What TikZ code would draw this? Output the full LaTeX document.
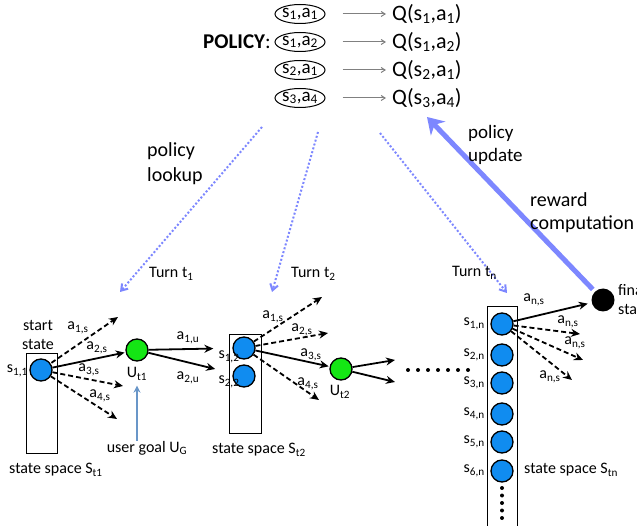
\documentclass[tikz,border=0pt]{standalone}
\usepackage{fontspec}
\setmainfont{Carlito}
\usetikzlibrary{arrows.meta,shapes.geometric,calc}
\definecolor{sblue}{RGB}{16,140,240}
\definecolor{ugreen}{RGB}{20,230,20}
\definecolor{lblue}{RGB}{125,135,255}
\definecolor{goalblue}{RGB}{105,150,200}
\newcommand{\sbs}[1]{\textsubscript{#1}}
\begin{document}
\begin{tikzpicture}[x=1pt,y=-1pt,
  txt/.style={inner sep=0pt,font=\fontsize{16}{19}\selectfont},
  lbl/.style={inner sep=0pt,font=\fontsize{16}{18}\selectfont},
  big/.style={inner sep=0pt,font=\fontsize{22}{24}\selectfont},
  pell/.style={ellipse,draw,line width=1pt,minimum width=50pt,minimum height=19pt,inner xsep=-5pt,inner ysep=-6pt,font=\fontsize{19}{20}\selectfont},
  stnode/.style={circle,draw,line width=1.3pt,fill=sblue,minimum size=22pt,inner sep=0pt},
  unode/.style={circle,draw,line width=1.3pt,fill=ugreen,minimum size=22pt,inner sep=0pt},
  sbox/.style={draw,line width=0.9pt,fill=white,inner sep=0pt},
  solidarr/.style={line width=1.8pt,-{Stealth[length=9pt,width=8pt]}},
  dasharr/.style={line width=1.8pt,dash pattern=on 5pt off 3pt,-{Stealth[length=9pt,width=8pt]}},
  grarr/.style={draw=gray,line width=1pt,-{Straight Barb[length=4pt,width=5pt]}},
  lookup/.style={draw=lblue,line width=2pt,dotted,-{Straight Barb[length=6pt,width=8pt]}},
]
\useasboundingbox (0,0) rectangle (637,526);
\clip (0,0) rectangle (637,526);

% ---------- policy table ----------
\node[inner sep=0pt,font=\fontsize{21}{23}\selectfont,anchor=east] (pol) at (271,42) {\textbf{POLICY}:};
\node[pell] (p1) at (300,14) {s\sbs{1},a\sbs{1}};
\node[pell] (p2) at (300,42) {s\sbs{1},a\sbs{2}};
\node[pell] (p3) at (300,70) {s\sbs{2},a\sbs{1}};
\node[pell] (p4) at (300,98) {s\sbs{3},a\sbs{4}};
\node[big,anchor=west] (q1) at (392,14) {Q(s\sbs{1},a\sbs{1})};
\node[big,anchor=west] (q2) at (392,42) {Q(s\sbs{1},a\sbs{2})};
\node[big,anchor=west] (q3) at (392,70) {Q(s\sbs{2},a\sbs{1})};
\node[big,anchor=west] (q4) at (392,98) {Q(s\sbs{3},a\sbs{4})};
\foreach \i in {1,2,3,4}{
  \draw[grarr,shorten <=17pt,shorten >=6pt] (p\i.east) -- (p\i.east -| q\i.west);
}

% ---------- lookup arrows ----------
\coordinate (l1s) at (262,127); \coordinate (l1e) at (120,292);
\coordinate (l2s) at (318,132); \coordinate (l2e) at (272,292);
\coordinate (l3s) at (380,133); \coordinate (l3e) at (507,293);
\draw[lookup] (l1s) -- (l1e);
\draw[lookup] (l2s) -- (l2e);
\draw[lookup] (l3s) -- (l3e);
\node[inner sep=0pt,font=\fontsize{20}{25}\selectfont,align=left,anchor=north west] (plk) at (147,142) {policy\\lookup};
\node[lbl,anchor=west] (turn1) at (149,274) {Turn t\sbs{1}};
\node[lbl,anchor=west] (turn2) at (291,274) {Turn t\sbs{2}};
\node[lbl,anchor=west] (turnn) at (452,273) {Turn t\sbs{n}};

% ---------- state space 1 ----------
\node[sbox,minimum width=31pt,minimum height=100pt] (S1) at (41.5,403) {};
\node[stnode] (s11) at (41,370) {};
\node[lbl,anchor=east] (s11l) at (28,371) {s\sbs{1,1}};
\node[txt,align=center] (start) at (38,335) {start\\state};
\node[unode] (ut1) at (137,350) {};
\node[lbl] (ut1l) at (137,374) {U\sbs{t1}};
\coordinate (e11) at (118,317);
\coordinate (e13) at (123,386);
\coordinate (e14) at (117,419);
\draw[dasharr,shorten <=1pt] (s11) -- (e11);
\draw[solidarr,shorten >=1pt] (s11) -- (ut1);
\draw[dasharr] (s11) -- (e13);
\draw[dasharr] (s11) -- (e14);
\node[lbl] (a11) at (78,328) {a\sbs{1,s}};
\node[lbl] (a12) at (97,348) {a\sbs{2,s}};
\node[lbl] (a13) at (89,370) {a\sbs{3,s}};
\node[lbl] (a14) at (100,396) {a\sbs{4,s}};
\node[lbl] (ug) at (147,448) {user goal U\sbs{G}};
\draw[goalblue,line width=1.6pt,-{Stealth[length=7pt,width=7pt]},shorten >=5pt] (ug.north -| ut1l) -- (ut1l.south);
\node[lbl,anchor=west] (ss1) at (9,470) {state space S\sbs{t1}};

% ---------- state space 2 ----------
\node[sbox,minimum width=32pt,minimum height=99pt] (S2) at (245,383.5) {};
\node[stnode] (s12) at (244,348) {};
\node[stnode] (s22) at (244,376) {};
\node[lbl] (s12l) at (229,357) {s\sbs{1,2}};
\node[lbl] (s22l) at (229,382) {s\sbs{2,2}};
\draw[solidarr,shorten >=19pt] (ut1) -- (s12);
\draw[solidarr,shorten >=18pt] (ut1) -- (s22);
\node[lbl] (a1u) at (188,338) {a\sbs{1,u}};
\node[lbl] (a2u) at (188,378) {a\sbs{2,u}};
\node[unode] (ut2) at (341,369) {};
\node[lbl] (ut2l) at (340,392) {U\sbs{t2}};
\coordinate (f11) at (322,297);
\coordinate (f12) at (328,333);
\coordinate (f14) at (319,400);
\draw[dasharr] (s12) -- (f11);
\draw[dasharr] (s12) -- (f12);
\draw[solidarr,shorten >=1pt] (s12) -- (ut2);
\draw[dasharr] (s12) -- (f14);
\node[lbl] (b11) at (273,317) {a\sbs{1,s}};
\node[lbl] (b12) at (302,330) {a\sbs{2,s}};
\node[lbl] (b13) at (311,355) {a\sbs{3,s}};
\node[lbl] (b14) at (308,384) {a\sbs{4,s}};
\coordinate (g1) at (395,360);
\coordinate (g2) at (395,382);
\draw[solidarr] (ut2) -- (g1);
\draw[solidarr] (ut2) -- (g2);
\foreach \x in {408,418,...,468} \fill (\x,370) circle (2pt);
\node[lbl,anchor=west] (ss2) at (212,450) {state space S\sbs{t2}};

% ---------- state space n ----------
\node[sbox,minimum width=30pt,minimum height=240pt] (Sn) at (502,426) {};
\foreach \i/\y in {1/324,2/355,3/383,4/414,5/442,6/471}{
  \node[stnode] (sn\i) at (502,\y) {};
  \node[lbl,anchor=east] (sn\i l) at (485,\y) {s\sbs{\i,n}};
}
\foreach \y in {488,495.5,...,519} \fill (502,\y) circle (2pt);
\node[circle,fill=black,minimum size=23pt,inner sep=0pt] (fs) at (603,300) {};
\node[txt,align=left,anchor=west] (fsl) at (618,300) {final\\state};
\coordinate (h2) at (580,334);
\coordinate (h3) at (583,360);
\coordinate (h4) at (572,380);
\draw[solidarr,shorten >=4pt] (sn1) -- (fs);
\draw[dasharr] (sn1) -- (h2);
\draw[dasharr] (sn1) -- (h3);
\draw[dasharr] (sn1) -- (h4);
\node[lbl] (c1) at (534,300) {a\sbs{n,s}};
\node[lbl] (c2) at (568,322) {a\sbs{n,s}};
\node[lbl] (c3) at (575,343) {a\sbs{n,s}};
\node[lbl] (c4) at (550,377) {a\sbs{n,s}};
\node[lbl,anchor=west] (ssn) at (524,470) {state space S\sbs{tn}};

% ---------- policy update ----------
\coordinate (pu) at (427,117);
\draw[lblue,line width=5pt,-{Stealth[length=16pt,width=20pt]},shorten <=3pt] (fs) -- (pu);
\node[inner sep=0pt,font=\fontsize{19}{23}\selectfont,align=left,anchor=north west] (pul) at (468,125) {policy\\update};
\node[inner sep=0pt,font=\fontsize{20}{23}\selectfont,align=left,anchor=north west] (rwc) at (530,192) {reward\\computation};
\end{tikzpicture}
\end{document}
